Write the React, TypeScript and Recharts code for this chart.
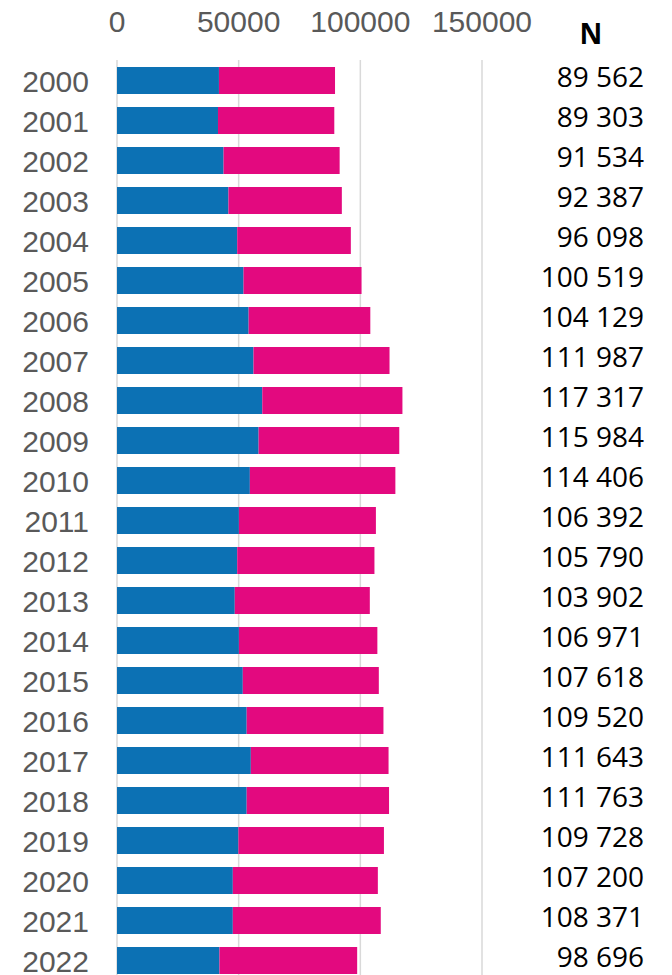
import { Bar, BarChart, CartesianGrid, LabelList, XAxis, YAxis } from "recharts";

const BLUE = "#0c71b4";
const PINK = "#e3097f";
const GRID = "#d9d9d9";
const AXIS_TEXT = "#595959";

const years = [
  "2000", "2001", "2002", "2003", "2004", "2005", "2006", "2007", "2008", "2009", "2010", "2011",
  "2012", "2013", "2014", "2015", "2016", "2017", "2018", "2019", "2020", "2021", "2022",
];
const blueValues = [
  41900, 41500, 43800, 45800, 49400, 52000, 54100, 56100, 59700, 58200, 54600, 50100,
  49400, 48400, 50100, 51700, 53300, 55000, 53300, 49900, 47600, 47600, 42100,
];
const pinkValues = [
  47700, 47800, 47700, 46600, 46700, 48500, 50000, 55900, 57600, 57800, 59800, 56300,
  56400, 55500, 56900, 55900, 56200, 56600, 58500, 59800, 59600, 60800, 56600,
];
const totalLabels = [
  "89 562", "89 303", "91 534", "92 387", "96 098", "100 519", "104 129", "111 987", "117 317",
  "115 984", "114 406", "106 392", "105 790", "103 902", "106 971", "107 618", "109 520",
  "111 643", "111 763", "109 728", "107 200", "108 371", "98 696",
];
const xTicks = [0, 50000, 100000, 150000];

const data = years.map((year, i) => ({
  year,
  blue: blueValues[i],
  pink: pinkValues[i],
  total: totalLabels[i],
}));

function TopTick({ x, payload }: { x?: number; payload?: { value: number } }) {
  return (
    <text
      x={x}
      y={21}
      textAnchor="middle"
      dominantBaseline="central"
      fontSize={30}
      fill={AXIS_TEXT}
      fontFamily="'Liberation Sans', Arial, sans-serif"
    >
      {payload?.value}
    </text>
  );
}

function YearTick({ y, payload }: { y?: number; payload?: { value: string } }) {
  return (
    <text
      x={89}
      y={(y ?? 0) + 1}
      textAnchor="end"
      dominantBaseline="central"
      fontSize={30}
      fill={AXIS_TEXT}
      fontFamily="'Liberation Sans', Arial, sans-serif"
    >
      {payload?.value}
    </text>
  );
}

function TotalLabel(props: any) {
  const { y, height, value } = props;
  return (
    <text
      x={644}
      y={y + height / 2 - 5}
      textAnchor="end"
      dominantBaseline="central"
      fontSize={28}
      fill="#000"
      fontFamily="'Open Sans', 'Noto Sans', sans-serif"
    >
      {value}
    </text>
  );
}

export default function App() {
  return (
    <div
      style={{
        position: "absolute",
        left: 0,
        top: 0,
        width: 672,
        height: 975,
        overflow: "hidden",
        background: "#fff",
      }}
    >
      <BarChart
        width={672}
        height={985}
        data={data}
        layout="vertical"
        margin={{ top: 0, right: 190, left: 0, bottom: 5 }}
        barSize={27}
      >
        <CartesianGrid stroke={GRID} strokeWidth={1.5} horizontal={false} />
        <XAxis
          type="number"
          orientation="top"
          domain={[0, 150000]}
          ticks={xTicks}
          height={60}
          axisLine={false}
          tickLine={false}
          tick={<TopTick />}
          interval={0}
        />
        <YAxis
          type="category"
          dataKey="year"
          width={117}
          axisLine={false}
          tickLine={false}
          tick={<YearTick />}
          interval={0}
        />
        <Bar dataKey="blue" stackId="a" fill={BLUE} isAnimationActive={false} />
        <Bar dataKey="pink" stackId="a" fill={PINK} isAnimationActive={false}>
          <LabelList dataKey="total" content={<TotalLabel />} />
        </Bar>
      </BarChart>
      <svg
        width={672}
        height={60}
        style={{ position: "absolute", left: 0, top: 0, pointerEvents: "none" }}
      >
        <text
          x={591}
          y={33}
          textAnchor="middle"
          dominantBaseline="central"
          fontSize={28}
          fontWeight={700}
          fill="#000"
          fontFamily="'Open Sans', 'Noto Sans', sans-serif"
        >
          N
        </text>
      </svg>
    </div>
  );
}
